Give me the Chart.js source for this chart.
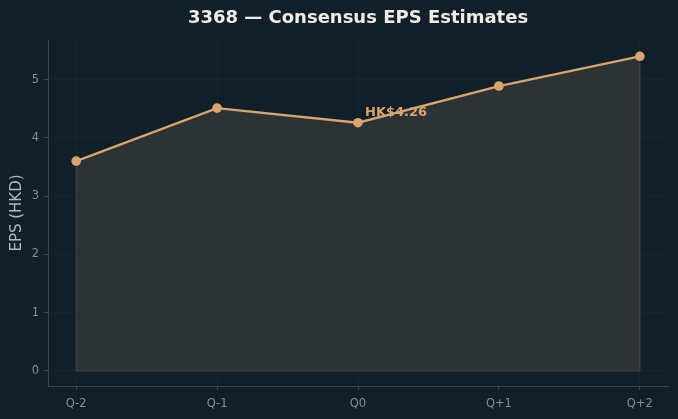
<!DOCTYPE html>
<html>
<head>
<meta charset="utf-8">
<script src="https://cdn.jsdelivr.net/npm/chart.js@4/dist/chart.umd.min.js"></script>
<style>
  html, body { margin: 0; padding: 0; background: #112028; }
  #wrap { width: 678px; height: 419px; }
</style>
</head>
<body>
<div id="wrap"><canvas id="epsChart"></canvas></div>
<script>
const chartTitle = '3368 — Consensus EPS Estimates';
const quarters = ['Q-2', 'Q-1', 'Q0', 'Q+1', 'Q+2'];
const epsValues = [3.60, 4.51, 4.26, 4.89, 5.40];
const yTicks = [0, 1, 2, 3, 4, 5];
const noteLabel = 'HK$4.26';
const noteIndex = 2;

const LINE = '#d9a46e';
const GRID = 'rgba(255,255,255,0.025)';
const SPINE = '#3b474c';
const TICK_TXT = '#858d91';

const points = epsValues.map((v, i) => ({ x: i, y: v }));

// outline of the shaded area, title over the plot, and the "HK$4.26" note
const extras = {
  id: 'extras',
  beforeDatasetsDraw(chart) {
    const { ctx, scales: { x, y } } = chart;
    ctx.save();
    ctx.strokeStyle = '#45473f';
    ctx.lineWidth = 1;
    ctx.beginPath();
    ctx.moveTo(x.getPixelForValue(0), y.getPixelForValue(0));
    points.forEach(p => ctx.lineTo(x.getPixelForValue(p.x), y.getPixelForValue(p.y)));
    ctx.lineTo(x.getPixelForValue(points.length - 1), y.getPixelForValue(0));
    ctx.closePath();
    ctx.stroke();
    ctx.restore();
  },
  afterDatasetsDraw(chart) {
    const { ctx, chartArea, scales: { x, y } } = chart;
    const px = x.getPixelForValue(noteIndex);
    const py = y.getPixelForValue(epsValues[noteIndex]);
    ctx.save();
    ctx.font = 'bold 13px "DejaVu Sans"';
    ctx.fillStyle = LINE;
    ctx.textBaseline = 'alphabetic';
    ctx.fillText(noteLabel, px + 7, py - 7);

    ctx.font = 'bold 18px "DejaVu Sans"';
    ctx.fillStyle = '#eeece6';
    ctx.textAlign = 'center';
    ctx.textBaseline = 'middle';
    ctx.fillText(chartTitle, (chartArea.left + chartArea.right) / 2, 18);
    ctx.restore();
  }
};

new Chart(document.getElementById('epsChart'), {
  type: 'line',
  data: {
    datasets: [{
      data: points,
      borderColor: LINE,
      backgroundColor: 'rgba(80,76,66,0.45)',
      borderWidth: 2.3,
      pointRadius: 4.8,
      pointBackgroundColor: LINE,
      pointBorderWidth: 0,
      tension: 0,
      fill: 'origin'
    }]
  },
  options: {
    responsive: true,
    maintainAspectRatio: false,
    animation: false,
    layout: { padding: { left: 0, right: 10, top: 40, bottom: 0 } },
    plugins: {
      legend: { display: false },
      tooltip: { enabled: false },
      title: { display: false }
    },
    scales: {
      x: {
        type: 'linear',
        min: -0.2,
        max: 4.2,
        afterBuildTicks: s => { s.ticks = quarters.map((_, i) => ({ value: i })); },
        afterFit: s => { s.height = 33; },
        ticks: {
          callback: v => quarters[v],
          color: TICK_TXT,
          font: { family: 'DejaVu Sans', size: 11.5 },
          padding: 7
        },
        grid: { color: GRID, tickColor: SPINE, tickLength: 4 },
        border: { color: SPINE, width: 1 }
      },
      y: {
        min: -0.26,
        max: 5.68,
        afterBuildTicks: s => { s.ticks = yTicks.map(v => ({ value: v })); },
        afterFit: s => { s.width = 48; },
        ticks: {
          color: TICK_TXT,
          font: { family: 'DejaVu Sans', size: 11.5 },
          padding: 5
        },
        grid: { color: GRID, tickColor: SPINE, tickLength: 4 },
        border: { color: SPINE, width: 1 },
        title: {
          display: true,
          text: 'EPS (HKD)',
          color: '#b3b8ba',
          font: { family: 'DejaVu Sans', size: 15 },
          padding: { top: 8, bottom: 0 }
        }
      }
    }
  },
  plugins: [extras]
});
</script>
</body>
</html>
